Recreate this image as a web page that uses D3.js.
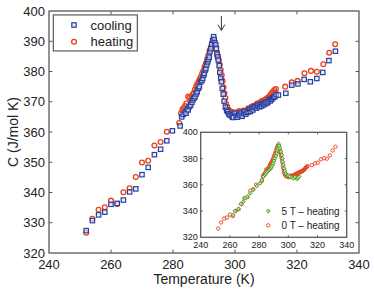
<!DOCTYPE html>
<html>
<head>
<meta charset="utf-8">
<script src="https://cdn.jsdelivr.net/npm/d3@7"></script>
<style>
  body { margin: 0; background: #fff; }
  svg { display: block; font-family: "Liberation Sans", Arial, sans-serif; }
</style>
</head>
<body>
<div id="chart"></div>
<script>
// heat capacity vs temperature, 0 T cooling / heating; inset adds 5 T heating
const cooling = [
  [252,327.4],[254,330.7],[256,332.6],[258,333.5],[260,336.1],[262,336.4],[264,337.5],[266,340.2],
  [268,341.2],[270,345.9],[272,348.3],[274,352.5],[276,354.3],[278,357.1],[279.8,360.4],[282.3,362],
  [282.8,365],[283.3,365.8],[283.9,366.7],[284.2,366.2],[284.6,367.5],[284.9,367.3],[285.3,368.4],
  [285.7,368.9],[286.1,369.8],[286.4,370.6],[286.8,371.2],[287.1,371.7],[287.5,372.6],[287.8,373.3],
  [288.2,374.4],[288.5,375],[288.9,376.6],[289.3,377],[289.6,377.7],[289.9,378.8],[290.1,379.4],
  [290.4,380.5],[290.6,381],[290.9,382.2],[291.2,383.2],[291.4,384],[291.7,384.7],[291.9,386.5],
  [292.2,387.5],[292.5,389],[292.8,390.3],[293.1,391.5],[293.3,390.6],[293.5,389.5],[293.8,388.8],
  [294,387.6],[294.2,385.7],[294.4,384.8],[294.6,383.8],[294.9,381.9],[295.1,379.7],[295.4,377.8],
  [295.6,376.6],[295.9,374.4],[296.2,372.5],[296.5,370.2],[296.9,368.2],[297.3,367.2],[297.6,366.7],
  [298,366],[298.4,365.6],[298.8,365.4],[299.2,364.9],[299.5,364.8],[300,366.2],[300.4,365.3],
  [300.8,364.9],[301.2,365.8],[301.6,365.6],[302,366.4],[302.3,365.2],[302.7,366.2],[303.1,366.8],
  [303.5,365.9],[303.9,366.5],[304.3,366.7],[304.7,367.5],[305,366.8],[305.4,367.8],[305.8,367.3],
  [306.1,368.2],[306.5,368.4],[306.9,367.9],[307.2,368.6],[307.5,368.9],[307.9,368.3],[308.2,369.1],
  [308.6,368.6],[309,369.5],[309.3,369],[309.7,369.3],[310,369.8],[310.4,369.6],[310.7,370],
  [311.1,370.7],[311.4,370.3],[311.8,370.8],[312.2,371.3],[312.5,371.5],[312.9,371.7],[313.3,372.4],
  [314,372.2],[316.4,372.8],[318.3,375.5],[320.3,375.9],[322.3,377.4],[324.3,376.6],[326.4,377.7],
  [328.3,379.7],[330.3,383.6],[332.4,386.7]
];

const heating = [
  [252,326.7],[254,331.3],[256,334.3],[258,335.1],[260,337.3],[262,336.2],[264,340.1],[266,341.4],
  [268,345.1],[270,349.9],[272,350.5],[274,355.5],[276,356.7],[278,360.1],[282,363],[282.6,366.2],
  [283,367.3],[283.4,367.9],[283.9,368.6],[284.3,369.4],[284.9,371.7],[285.3,371.3],[285.6,370.4],
  [286,371.5],[286.4,372.4],[286.7,373],[287.1,374],[287.5,375.1],[287.8,375.8],[288.2,376.5],
  [288.6,377.4],[289,378.2],[289.4,379.3],[289.8,380.2],[290.2,381.6],[290.6,382.7],[291,384],
  [291.4,385.4],[291.8,386.9],[292.2,388.1],[292.6,389.3],[293,390.4],[293.3,389.8],[293.6,388.8],
  [293.9,387.3],[294.2,386.3],[294.5,385.1],[294.8,383.8],[295.1,382.2],[295.4,380.5],[295.7,378.8],
  [296,376.9],[296.3,374.8],[296.6,372.8],[296.9,371.2],[297.1,369.3],[297.5,368.3],[297.9,367.3],
  [298.4,366.9],[298.8,366.3],[299.3,366.6],[299.8,366.1],[300.3,365.8],[300.8,366.5],[301.3,366.9],
  [301.8,366.4],[302.3,366.8],[302.8,367.1],[303.3,366.6],[303.8,367.2],[304.3,367.8],[304.8,367.5],
  [305.3,368.3],[305.8,368.6],[306.3,368.5],[306.8,369.1],[307.3,369.5],[307.8,369.3],[308.3,369.9],
  [308.8,370.3],[309.3,370.1],[309.8,370.7],[310.3,371.1],[310.7,371.3],[311.1,371.8],[311.5,372.3],
  [311.9,372.9],[312.3,373.4],[312.7,373.9],[313.2,374.2],[316.2,375],[318.3,376.4],[320.2,376.9],
  [322.4,379.4],[324.5,380.2],[326.4,379.9],[328.5,382.4],[330.4,386.2],[332.3,389]
];

const heating5T = [
  [262.3,337],[263.5,340],[265.8,341.6],[267.4,345.4],[269.2,347.1],[270.3,349.7],[271.9,350.9],
  [273.8,353.5],[276,356],[278.4,359.1],[280.6,361.1],[281.8,363.7],[282.9,366.2],[284,367.5],
  [284.6,368.4],[285.2,370],[286,370.6],[286.8,371.4],[287.5,371.8],[288.1,372.9],[288.6,373.8],
  [289.2,375],[289.7,376.4],[290.3,378.2],[290.9,380.2],[291.5,382],[292.1,384],[292.4,386.1],
  [292.7,387.8],[293.1,389.6],[293.4,391.1],[293.8,389.6],[294.3,387.8],[294.9,385.2],[295.5,382.7],
  [295.9,380],[296.2,377.6],[296.6,375],[297.1,372.6],[297.6,370.5],[298.2,368.8],[298.8,367.6],
  [299.3,366.7],[300.2,366.9],[301.2,366.2],[302.3,365.6],[303.4,365],[304.5,365.9],[305.8,364.4],
  [306.6,365.3],[307.5,366.2]
];

const xTicks = [240, 260, 280, 300, 320, 340];
const yTicks = [320, 330, 340, 350, 360, 370, 380, 390, 400];
const insetYTicks = [320, 340, 360, 380, 400];
const legendMain = ["cooling", "heating"];
const legendInset = ["5 T \u2013 heating", "0 T \u2013 heating"];

const W = 374, H = 289;
const M = { TOP: 11, LEFT: 49, RIGHT: 15, BOTTOM: 36 };
const IW = W - M.LEFT - M.RIGHT, IH = H - M.TOP - M.BOTTOM;
const AXIS = "#5a5a5a";
const BLUE = "#2840a0", RED = "#e8421a", GREEN = "#4e9a22";

const svg = d3.select("#chart").append("svg")
  .attr("width", W).attr("height", H);

const x = d3.scaleLinear().domain([240, 340]).range([M.LEFT, M.LEFT + IW]);
const y = d3.scaleLinear().domain([320, 400]).range([M.TOP + IH, M.TOP]);

function frame(g, xs, ys, xt, yt, tick, fs, lblOffX, lblOffY) {
  const [x0, x1] = xs.range(), [y0, y1] = ys.range();
  g.append("rect")
    .attr("x", x0).attr("y", y1).attr("width", x1 - x0).attr("height", y0 - y1)
    .attr("fill", "#fff").attr("stroke", AXIS).attr("stroke-width", 1.3);
  // inward ticks on all four sides
  g.selectAll(null).data(xt.slice(1, -1)).enter().append("path")
    .attr("d", d => `M${xs(d)},${y0}v${-tick}M${xs(d)},${y1}v${tick}`)
    .attr("stroke", AXIS).attr("stroke-width", 1);
  g.selectAll(null).data(yt.slice(1, -1)).enter().append("path")
    .attr("d", d => `M${x0},${ys(d)}h${tick}M${x1},${ys(d)}h${-tick}`)
    .attr("stroke", AXIS).attr("stroke-width", 1);
  g.selectAll(null).data(xt).enter().append("text")
    .attr("x", d => xs(d)).attr("y", y0 + lblOffY)
    .attr("text-anchor", "middle").attr("font-size", fs).attr("fill", "#222")
    .text(d => d);
  g.selectAll(null).data(yt).enter().append("text")
    .attr("x", x0 - lblOffX).attr("y", d => ys(d)).attr("dy", "0.35em")
    .attr("text-anchor", "end").attr("font-size", fs).attr("fill", "#222")
    .text(d => d);
}

const main = svg.append("g");
frame(main, x, y, xTicks, yTicks, 3.5, 13, 4, 16);

function squares(g, data, xs, ys, s) {
  g.selectAll(null).data(data).enter().append("rect")
    .attr("x", d => xs(d[0]) - s / 2).attr("y", d => ys(d[1]) - s / 2)
    .attr("width", s).attr("height", s)
    .attr("fill", "#dfe6f8").attr("fill-opacity", 0.6)
    .attr("stroke", BLUE).attr("stroke-width", 1.2);
}
function circles(g, data, xs, ys, r, sw) {
  g.selectAll(null).data(data).enter().append("circle")
    .attr("cx", d => xs(d[0])).attr("cy", d => ys(d[1])).attr("r", r)
    .attr("fill", "none").attr("stroke", RED).attr("stroke-width", sw);
}
function diamonds(g, data, xs, ys, r) {
  g.selectAll(null).data(data).enter().append("path")
    .attr("d", d => `M${xs(d[0])},${ys(d[1]) - r}l${r},${r}l${-r},${r}l${-r},${-r}z`)
    .attr("fill", "#c5e0b0").attr("stroke", GREEN).attr("stroke-width", 1);
}

const pts = main.append("g");
circles(pts, heating, x, y, 2.4, 1.3);
squares(pts, cooling, x, y, 4.4);

// arrow marking the transition
const ax = x(295.6);
main.append("path")
  .attr("d", `M${ax},${y(398.3)}V${y(393.6)}M${ax - 3.5},${y(395.5)}L${ax},${y(393.6)}L${ax + 3.5},${y(395.5)}`)
  .attr("fill", "none").attr("stroke", "#333").attr("stroke-width", 1);

// axis titles
svg.append("text")
  .attr("x", x(290)).attr("y", 284)
  .attr("text-anchor", "middle").attr("font-size", 14).attr("fill", "#222")
  .text("Temperature (K)");
svg.append("text")
  .attr("transform", `translate(18,${y(360)}) rotate(-90)`)
  .attr("text-anchor", "middle").attr("font-size", 14).attr("fill", "#222")
  .text("C (J/mol K)");

// main legend, top left inside the axes
const lg = main.append("g");
lg.append("rect")
  .attr("x", x(241.4)).attr("y", y(398.7))
  .attr("width", 84).attr("height", 36)
  .attr("fill", "#fff").attr("stroke", AXIS).attr("stroke-width", 1.2);
legendMain.forEach((t, i) => {
  const ly = 25 + i * 16.7;
  if (i === 0) {
    lg.append("rect").attr("x", 74 - 2.2).attr("y", ly - 2.2).attr("width", 4.4).attr("height", 4.4)
      .attr("fill", "#dfe6f8").attr("stroke", BLUE).attr("stroke-width", 1.2);
  } else {
    lg.append("circle").attr("cx", 74).attr("cy", ly).attr("r", 2.4)
      .attr("fill", "none").attr("stroke", RED).attr("stroke-width", 1.3);
  }
  lg.append("text").attr("x", 90.5).attr("y", ly).attr("dy", "0.35em")
    .attr("font-size", 13).attr("fill", "#222").text(t);
});

// inset
const xi = d3.scaleLinear().domain([240, 340]).range([200.7, 346.7]);
const yi = d3.scaleLinear().domain([320, 400]).range([237.3, 132.3]);
const inset = svg.append("g");
frame(inset, xi, yi, xTicks, insetYTicks, 2, 9, 3, 11);
const ip = inset.append("g");
circles(ip, heating, xi, yi, 1.7, 0.9);
diamonds(ip, heating5T, xi, yi, 1.9);

legendInset.forEach((t, i) => {
  const ly = 211 + i * 14.3;
  if (i === 0) {
    inset.append("path").attr("d", `M268.3,${ly - 1.9}l1.9,1.9l-1.9,1.9l-1.9,-1.9z`)
      .attr("fill", "#c5e0b0").attr("stroke", GREEN).attr("stroke-width", 1);
  } else {
    inset.append("circle").attr("cx", 268.3).attr("cy", ly).attr("r", 1.7)
      .attr("fill", "none").attr("stroke", RED).attr("stroke-width", 0.9);
  }
  inset.append("text").attr("x", 281.5).attr("y", ly).attr("dy", "0.35em")
    .attr("font-size", 10).attr("fill", "#222").text(t);
});
</script>
</body>
</html>
